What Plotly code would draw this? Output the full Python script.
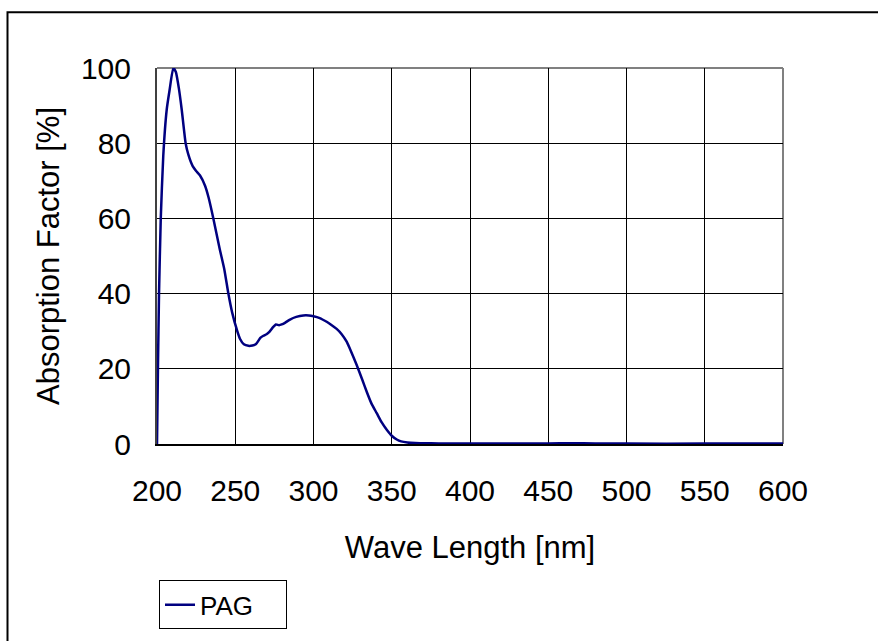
import plotly.graph_objects as go

# Data
wavelength = [200, 200.6, 201.3, 202.4, 204, 206.2, 208, 210.4, 212, 214, 215.8, 218.3, 220,
              222.8, 225, 227.5, 230.7, 233, 236, 240, 243, 245.6, 248, 251.3, 253, 255.5,
              258.4, 261, 263.3, 266, 268, 270, 271.8, 274, 276, 278, 279.7, 282, 285, 289,
              293.5, 297, 300, 304, 308.4, 311, 314.8, 318, 321.2, 324, 327.6, 331, 334, 337,
              340.4, 343.5, 346.8, 350, 353.2, 356, 360, 365, 370, 380, 400, 450, 465, 480,
              500, 550, 600]
absorption = [0, 20, 40, 60, 76.6, 88.9, 94, 100, 99, 94.5, 88.9, 80, 77,
              73.9, 72.6, 71.4, 68.7, 65.5, 60, 52, 46.5, 40, 35, 30, 28, 26.5,
              26.1, 26.2, 26.6, 28.2, 28.8, 29.2, 29.8, 31, 31.8, 31.6, 31.8, 32.3, 33.1, 33.8,
              34.2, 34.2, 34, 33.5, 32.5, 31.8, 30.6, 29.2, 27.2, 24.6, 21, 17.3, 13.9, 10.8,
              8.2, 5.8, 3.8, 2.2, 1.2, 0.7, 0.4, 0.25, 0.2, 0.15, 0.1, 0.15, 0.2, 0.15,
              0.1, 0.1, 0.1]
series_name = "PAG"
x_ticks = [200, 250, 300, 350, 400, 450, 500, 550, 600]
y_ticks = [0, 20, 40, 60, 80, 100]

W, H = 878, 641
L, R, T, B = 157, 783, 68, 446

def px(xp):
    return (xp - L) / (R - L)

def py(yp):
    return (B - yp) / (B - T)

FONT = "Liberation Sans, Arial, sans-serif"

fig = go.Figure()
fig.add_trace(go.Scatter(
    x=wavelength, y=absorption, mode="lines", name=series_name,
    line=dict(color="#000080", width=2.5, shape="spline", smoothing=0.5),
))

fig.update_layout(
    width=W, height=H,
    margin=dict(l=L, r=W - R, t=T, b=H - B, pad=0),
    paper_bgcolor="white", plot_bgcolor="white",
    font=dict(family=FONT, size=30, color="black"),
    showlegend=True,
    legend=dict(
        orientation="h",
        x=px(159), y=py(583), xanchor="left", yanchor="top",
        bordercolor="black", borderwidth=1, bgcolor="white",
        font=dict(size=26), itemwidth=30,
        entrywidth=81, entrywidthmode="pixels",
        tracegroupgap=0,
    ),
    xaxis=dict(
        range=[200, 600], tickvals=x_ticks, ticktext=[str(v) for v in x_ticks],
        showgrid=True, gridcolor="black", gridwidth=1,
        showline=True, linecolor="black", linewidth=1.5,
        ticks="", ticklabelstandoff=19, zeroline=False,
        title=dict(text="Wave Length [nm]", standoff=31, font=dict(size=31)),
        fixedrange=True,
    ),
    yaxis=dict(
        range=[0, 100], tickvals=y_ticks, ticktext=[str(v) for v in y_ticks],
        showgrid=True, gridcolor="black", gridwidth=1,
        showline=True, linecolor="#404040", linewidth=2,
        ticks="", ticklabelstandoff=18, zeroline=False,
        title=dict(text="Absorption Factor [%]", standoff=12, font=dict(size=31)),
        fixedrange=True,
    ),
    shapes=[
        # plot area top and right border (gray)
        dict(type="line", xref="paper", yref="paper", x0=0, x1=1, y0=1, y1=1,
             line=dict(color="#808080", width=2), layer="between"),
        dict(type="line", xref="paper", yref="paper", x0=1, x1=1, y0=0, y1=1,
             line=dict(color="#808080", width=2), layer="between"),
        # outer chart frame (extends past right/bottom of the window)
        dict(type="rect", xref="paper", yref="paper",
             x0=px(7.5), x1=px(890), y0=py(12), y1=py(660),
             line=dict(color="black", width=2), layer="below"),
    ],
)

fig.write_html("out.html")
